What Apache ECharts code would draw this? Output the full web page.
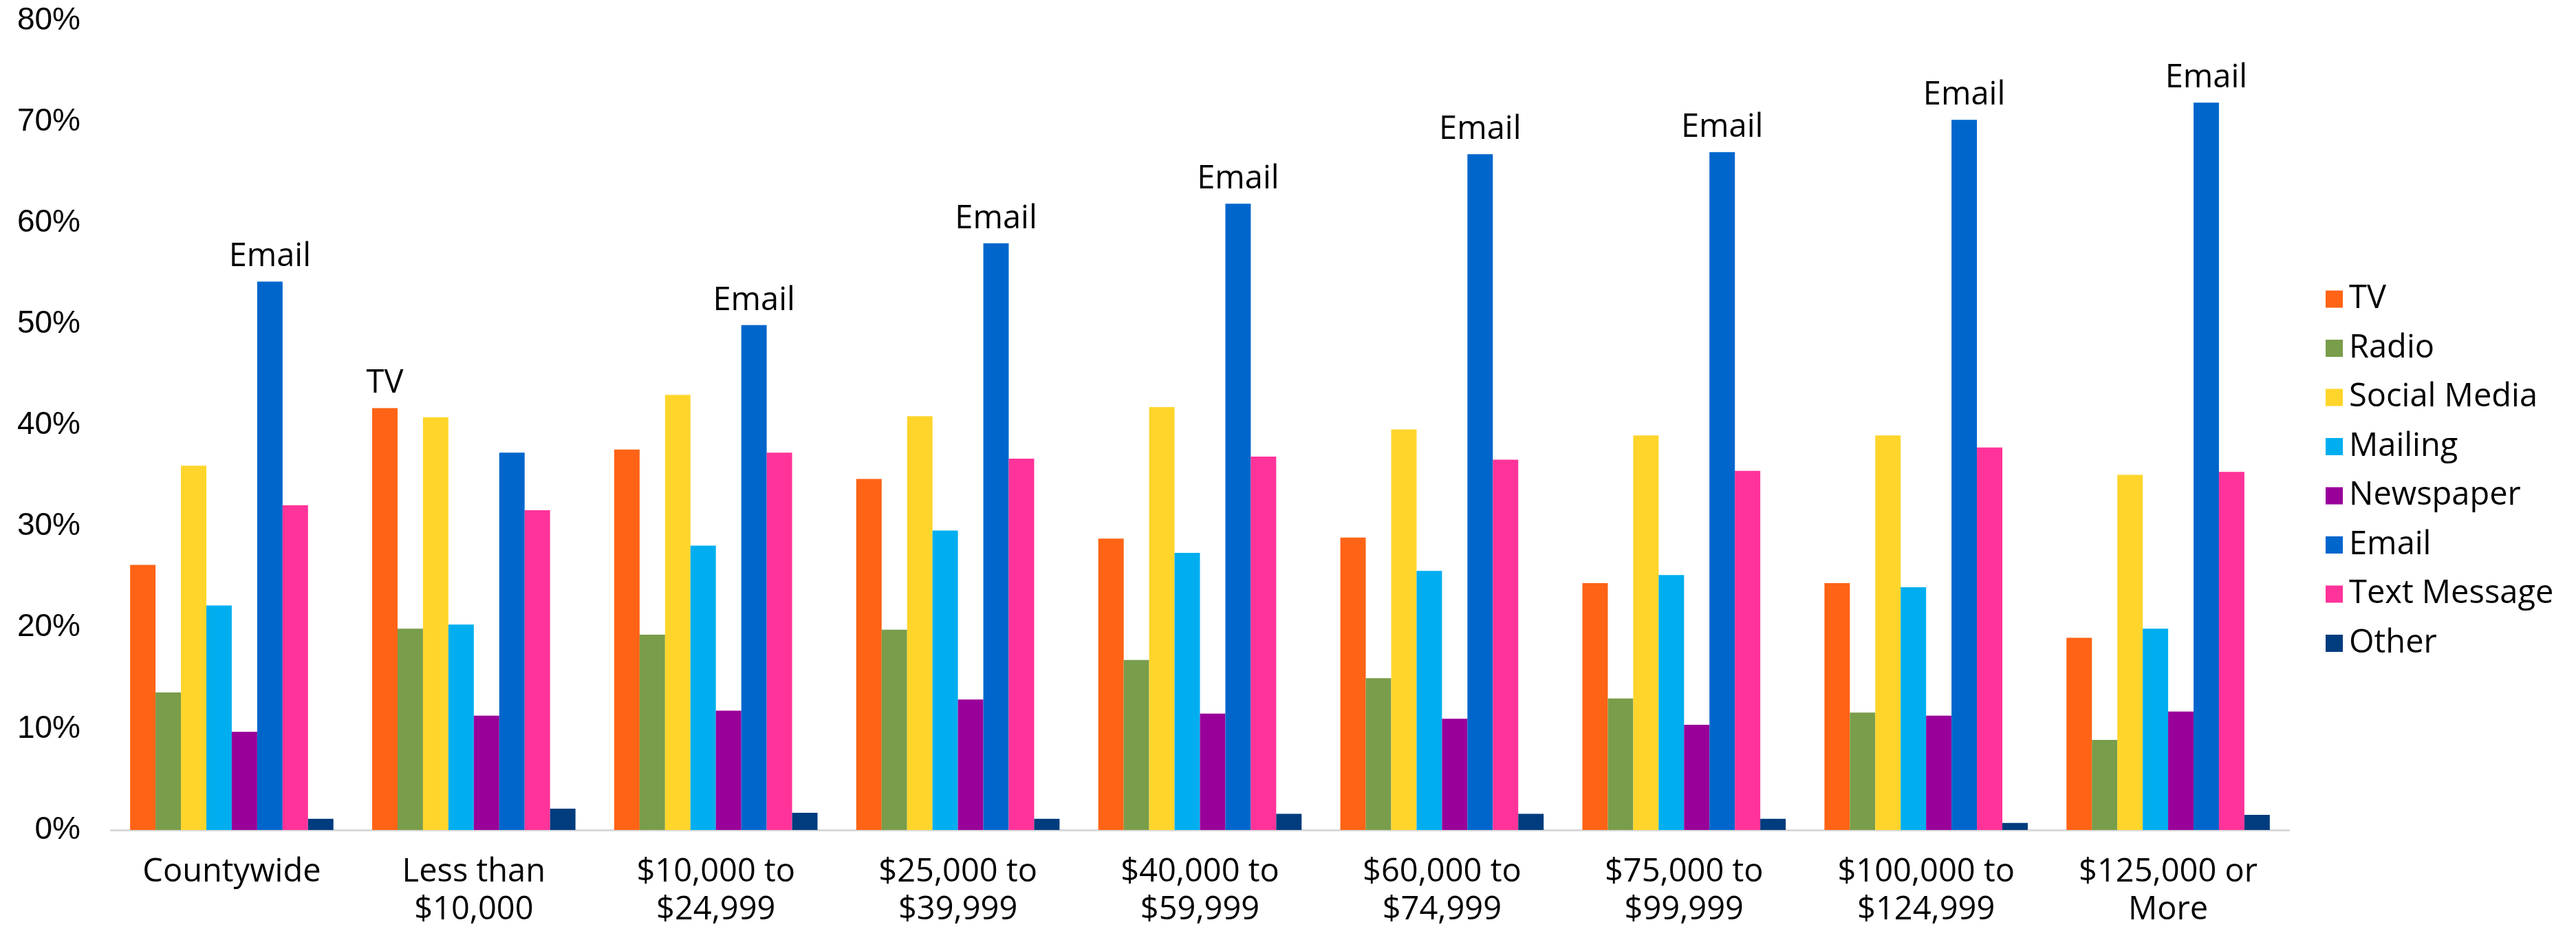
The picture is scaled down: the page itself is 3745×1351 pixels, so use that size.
<!DOCTYPE html>
<html>
<head>
<meta charset="utf-8">
<script src="https://cdn.jsdelivr.net/npm/echarts@6/dist/echarts.min.js"></script>
<style>
html,body{margin:0;padding:0;background:#fff;}
#chart{width:3745px;height:1351px;}
</style>
</head>
<body>
<div id="chart"></div>
<script>
const categories = ['Countywide', 'Less than\n$10,000', '$10,000 to\n$24,999', '$25,000 to\n$39,999', '$40,000 to\n$59,999', '$60,000 to\n$74,999', '$75,000 to\n$99,999', '$100,000 to\n$124,999', '$125,000 or\nMore'];
const seriesNames = ['TV', 'Radio', 'Social Media', 'Mailing', 'Newspaper', 'Email', 'Text Message', 'Other'];
const tvValues        = [26.2, 41.7, 37.6, 34.7, 28.8, 28.9, 24.4, 24.4, 19.0];
const radioValues     = [13.6, 19.9, 19.3, 19.8, 16.8, 15.0, 13.0, 11.6, 8.9];
const socialValues    = [36.0, 40.8, 43.0, 40.9, 41.8, 39.6, 39.0, 39.0, 35.1];
const mailingValues   = [22.2, 20.3, 28.1, 29.6, 27.4, 25.6, 25.2, 24.0, 19.9];
const newspaperValues = [9.7, 11.3, 11.8, 12.9, 11.5, 11.0, 10.4, 11.3, 11.7];
const emailValues     = [54.2, 37.3, 49.9, 58.0, 61.9, 66.8, 67.0, 70.2, 71.9];
const textValues      = [32.1, 31.6, 37.3, 36.7, 36.9, 36.6, 35.5, 37.8, 35.4];
const otherValues     = [1.1, 2.1, 1.7, 1.1, 1.6, 1.6, 1.1, 0.7, 1.5];
const labelledChannel = ['Email', 'TV', 'Email', 'Email', 'Email', 'Email', 'Email', 'Email', 'Email'];
const yTicks = [0, 10, 20, 30, 40, 50, 60, 70, 80];

const colors = ['#FF6315', '#799D4A', '#FFD52B', '#00AEEF', '#990099', '#0066CC', '#FF3399', '#003C7E'];
const allValues = [tvValues, radioValues, socialValues, mailingValues, newspaperValues, emailValues, textValues, otherValues];
const FONT = '"Open Sans", sans-serif';
const AXISFONT = '"Liberation Sans", Arial, sans-serif';

const series = seriesNames.map((name, si) => ({
  name: name,
  type: 'bar',
  barGap: '0%',
  barCategoryGap: '16%',
  itemStyle: { color: colors[si] },
  emphasis: { disabled: true },
  data: allValues[si].map((v, ci) => {
    const item = { value: v };
    if (labelledChannel[ci] === name) {
      item.label = {
        show: true, position: 'top', distance: 12,
        formatter: name, color: '#000', fontFamily: FONT, fontSize: 47
      };
    }
    return item;
  })
}));

const chart = echarts.init(document.getElementById('chart'), null, { renderer: 'canvas' });
chart.setOption({
  animation: false,
  backgroundColor: '#fff',
  color: colors,
  grid: { left: 161, right: 417, top: 30, bottom: 141, containLabel: false },
  legend: {
    orient: 'vertical',
    left: 3376,
    top: 405,
    itemWidth: 25,
    itemHeight: 25,
    itemGap: 21.5,
    icon: 'rect',
    data: seriesNames,
    textStyle: { fontFamily: FONT, fontSize: 47, color: '#000', lineHeight: 50, padding: [0, 0, 0, 4] }
  },
  xAxis: {
    type: 'category',
    data: categories,
    axisLine: { lineStyle: { color: '#D9D9D9', width: 3 } },
    axisTick: { show: false },
    axisLabel: { fontFamily: FONT, fontSize: 47, color: '#000', lineHeight: 55, margin: 34, interval: 0 }
  },
  yAxis: {
    type: 'value',
    min: yTicks[0],
    max: yTicks[yTicks.length - 1],
    interval: 10,
    splitLine: { show: false },
    axisLine: { show: false },
    axisTick: { show: false },
    axisLabel: { fontFamily: AXISFONT, fontSize: 46, color: '#000', margin: 44, formatter: '{value}%' }
  },
  series: series
});
</script>
</body>
</html>
